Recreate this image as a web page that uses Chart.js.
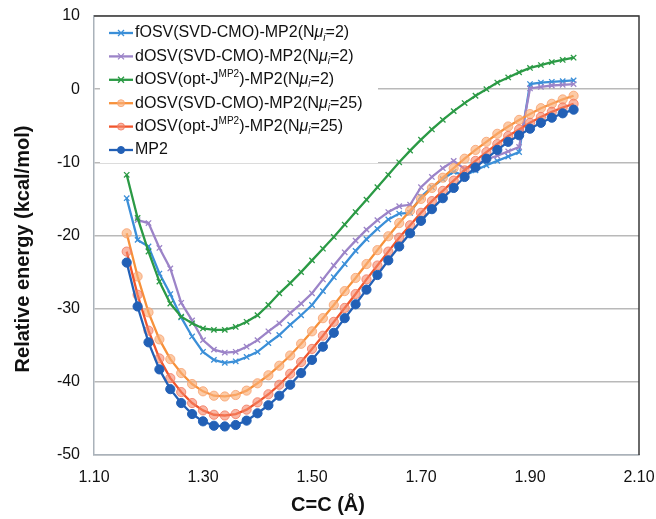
<!DOCTYPE html>
<html>
<head>
<meta charset="utf-8">
<script src="https://cdn.jsdelivr.net/npm/chart.js@4/dist/chart.umd.min.js"></script>
<style>
  html, body { margin: 0; padding: 0; background: #fff; }
  #wrap { width: 656px; height: 519px; position: relative; }
</style>
</head>
<body>
<div id="wrap"><canvas id="chart" width="656" height="519"></canvas></div>
<script>
// C=C bond length (Å)
const bondLengths = [1.16, 1.18, 1.20, 1.22, 1.24, 1.26, 1.28, 1.30, 1.32, 1.34,
  1.36, 1.38, 1.40, 1.42, 1.44, 1.46, 1.48, 1.50, 1.52, 1.54,
  1.56, 1.58, 1.60, 1.62, 1.64, 1.66, 1.68, 1.70, 1.72, 1.74,
  1.76, 1.78, 1.80, 1.82, 1.84, 1.86, 1.88, 1.90, 1.92, 1.94,
  1.96, 1.98];

// relative energies (kcal/mol)
const fOsvSvd2 = [-14.9, -20.6, -21.5, -25.2, -28.0, -31.2, -33.8, -35.9, -37.0, -37.4,
  -37.2, -36.6, -35.9, -34.7, -33.6, -32.2, -30.9, -29.5, -27.6, -25.7,
  -23.9, -22.1, -20.5, -19.1, -17.8, -17.0, -16.9, -14.7, -13.4, -12.3,
  -11.3, -11.8, -11.1, -10.4, -9.8, -9.2, -8.6, 0.7, 0.9, 1.0,
  1.1, 1.2];
const dOsvSvd2 = [null, -17.9, -18.3, -21.7, -24.5, -29.2, -31.6, -34.3, -35.6, -36.0,
  -35.9, -35.2, -34.3, -33.1, -32.0, -30.6, -29.3, -27.9, -26.0, -24.1,
  -22.3, -20.7, -19.2, -17.9, -16.8, -16.0, -15.8, -13.4, -12.0, -10.8,
  -9.8, -10.9, -10.4, -9.6, -9.1, -8.5, -7.9, 0.1, 0.3, 0.5,
  0.6, 0.7];
const dOsvOptJ2 = [-11.7, -17.6, -22.2, -26.3, -29.3, -31.1, -32.0, -32.7, -32.9, -32.9,
  -32.5, -31.8, -30.9, -29.5, -27.9, -26.5, -25.0, -23.4, -21.8, -20.2,
  -18.5, -16.8, -15.1, -13.4, -11.7, -10.0, -8.4, -6.9, -5.5, -4.2,
  -3.0, -1.9, -0.9, 0.0, 0.9, 1.6, 2.3, 2.9, 3.3, 3.7,
  4.0, 4.3];
const dOsvSvd25 = [-19.7, -25.6, -30.5, -34.2, -36.9, -38.8, -40.3, -41.3, -41.9, -42.0,
  -41.8, -41.2, -40.2, -39.1, -37.8, -36.4, -34.8, -33.1, -31.3, -29.5,
  -27.6, -25.8, -23.9, -22.0, -20.1, -18.3, -16.6, -15.0, -13.5, -12.1,
  -10.8, -9.5, -8.3, -7.2, -6.1, -5.1, -4.2, -3.4, -2.6, -2.0,
  -1.4, -0.9];
const dOsvOptJ25 = [-22.2, -28.1, -33.0, -36.8, -39.5, -41.4, -42.9, -43.9, -44.5, -44.6,
  -44.4, -43.8, -42.8, -41.7, -40.4, -38.9, -37.3, -35.5, -33.7, -31.8,
  -29.9, -28.0, -26.0, -24.1, -22.2, -20.3, -18.6, -16.9, -15.3, -13.9,
  -12.5, -11.1, -9.8, -8.6, -7.5, -6.4, -5.5, -4.6, -3.8, -3.1,
  -2.5, -2.0];
const mp2 = [-23.7, -29.7, -34.6, -38.3, -41.0, -42.9, -44.4, -45.4, -46.0, -46.1,
  -45.9, -45.3, -44.3, -43.2, -41.9, -40.4, -38.8, -37.0, -35.2, -33.3,
  -31.3, -29.4, -27.4, -25.4, -23.4, -21.5, -19.7, -18.0, -16.4, -14.9,
  -13.5, -12.0, -10.7, -9.5, -8.3, -7.2, -6.3, -5.4, -4.6, -3.9,
  -3.3, -2.8];

// legend labels: *italic*, _subscript_, ^superscript^
const seriesLabels = [
  'fOSV(SVD-CMO)-MP2(N*μ*_i_=2)',
  'dOSV(SVD-CMO)-MP2(N*μ*_i_=2)',
  'dOSV(opt-J^MP2^)-MP2(N*μ*_i_=2)',
  'dOSV(SVD-CMO)-MP2(N*μ*_i_=25)',
  'dOSV(opt-J^MP2^)-MP2(N*μ*_i_=25)',
  'MP2'
];
const xTicks = [1.10, 1.30, 1.50, 1.70, 1.90, 2.10];

const FONT = '"Liberation Sans", Arial, Helvetica, sans-serif';

const styles = [
  {color: '#3b8fd8', point: 'crossRot', fill: '#3b8fd8', pborder: '#3b8fd8'},
  {color: '#9c84c8', point: 'crossRot', fill: '#9c84c8', pborder: '#9c84c8'},
  {color: '#2b9a45', point: 'crossRot', fill: '#2b9a45', pborder: '#2b9a45'},
  {color: '#f7913a', point: 'circle', fill: 'rgba(250,175,120,0.65)', pborder: 'rgba(248,160,110,0.8)'},
  {color: '#f0552c', point: 'circle', fill: 'rgba(245,135,105,0.6)', pborder: 'rgba(242,120,95,0.8)'},
  {color: '#2260b6', point: 'circle', fill: '#2260b6', pborder: '#2260b6'}
];

const seriesValues = [fOsvSvd2, dOsvSvd2, dOsvOptJ2, dOsvSvd25, dOsvOptJ25, mp2];

const plainLabel = s => s.replace(/[\*_\^]/g, '');

const datasets = seriesValues.map((vals, i) => ({
  label: plainLabel(seriesLabels[i]),
  data: bondLengths.map((x, j) => ({x: x, y: vals[j]})),
  borderColor: styles[i].color,
  backgroundColor: styles[i].fill,
  borderWidth: 2.3,
  pointStyle: styles[i].point,
  pointRadius: styles[i].point === 'circle' ? 4.6 : 3.8,
  pointBorderWidth: styles[i].point === 'circle' ? 1 : 1.3,
  pointBackgroundColor: styles[i].fill,
  pointBorderColor: styles[i].pborder,
  tension: 0,
  spanGaps: false,
  order: 5 - i
}));

function drawRich(ctx, str, x, y, size) {
  const parts = str.split(/(\^[^^]+\^|_[^_]+_|\*[^*]+\*)/).filter(Boolean);
  parts.forEach(p => {
    let txt = p, font = size + 'px ' + FONT, dy = 0;
    if (p[0] === '^') {
      txt = p.slice(1, -1); font = Math.round(size * 0.6) + 'px ' + FONT; dy = -size * 0.33;
    } else if (p[0] === '_') {
      txt = p.slice(1, -1); font = 'italic ' + Math.round(size * 0.65) + 'px ' + FONT; dy = size * 0.3;
    } else if (p[0] === '*') {
      txt = p.slice(1, -1); font = 'italic ' + size + 'px ' + FONT;
    }
    ctx.font = font;
    ctx.fillText(txt, x, y + dy);
    x += ctx.measureText(txt).width;
  });
}

const decorations = {
  id: 'decorations',
  afterDraw(chart) {
    const ctx = chart.ctx;
    const a = chart.chartArea;
    ctx.save();
    // dark top and right frame
    ctx.strokeStyle = '#3a3a3a';
    ctx.lineWidth = 1.5;
    ctx.beginPath();
    ctx.moveTo(a.left, a.top);
    ctx.lineTo(a.right, a.top);
    ctx.lineTo(a.right, a.bottom);
    ctx.stroke();

    // legend
    ctx.fillStyle = '#fff';
    ctx.fillRect(100, 20, 278, 143);
    ctx.textBaseline = 'middle';
    ctx.textAlign = 'left';
    seriesLabels.forEach((lab, i) => {
      const y = 33 + i * 23.4;
      const st = styles[i];
      ctx.strokeStyle = st.color;
      ctx.lineWidth = 2.3;
      ctx.beginPath();
      ctx.moveTo(109, y);
      ctx.lineTo(133, y);
      ctx.stroke();
      if (st.point === 'circle') {
        ctx.fillStyle = st.fill;
        ctx.strokeStyle = st.pborder;
        ctx.lineWidth = 1;
        ctx.beginPath();
        ctx.arc(121, y, 3.5, 0, Math.PI * 2);
        ctx.fill();
        ctx.stroke();
      } else {
        ctx.lineWidth = 1.3;
        ctx.beginPath();
        ctx.moveTo(118, y - 3); ctx.lineTo(124, y + 3);
        ctx.moveTo(118, y + 3); ctx.lineTo(124, y - 3);
        ctx.stroke();
      }
      ctx.fillStyle = '#111';
      drawRich(ctx, lab, 135, y, 16);
    });

    // axis titles
    ctx.fillStyle = '#111';
    ctx.font = 'bold 20px ' + FONT;
    ctx.textAlign = 'center';
    ctx.fillText('C=C (Å)', 328, 505);
    ctx.translate(23, 249);
    ctx.rotate(-Math.PI / 2);
    ctx.fillText('Relative energy (kcal/mol)', 0, 0);
    ctx.restore();
  }
};

new Chart(document.getElementById('chart'), {
  type: 'line',
  data: {datasets: datasets},
  options: {
    responsive: false,
    animation: false,
    layout: {padding: {top: 16, right: 17, bottom: 0, left: 0}},
    plugins: {
      legend: {display: false},
      tooltip: {enabled: false}
    },
    scales: {
      x: {
        type: 'linear',
        min: 1.1,
        max: 2.1,
        afterBuildTicks: scale => { scale.ticks = xTicks.map(v => ({value: v})); },
        afterFit: scale => {
          scale.height = 64;
          scale.paddingLeft = 0;
          scale.paddingRight = 0;
        },
        grid: {display: false, drawTicks: false},
        border: {display: true, color: '#aab2ba', width: 1.5},
        ticks: {
          padding: 13,
          color: '#111',
          font: {family: FONT, size: 16},
          maxRotation: 0,
          callback: v => v.toFixed(2)
        }
      },
      y: {
        min: -50,
        max: 10,
        afterFit: scale => {
          scale.width = 94;
          scale.paddingTop = 0;
          scale.paddingBottom = 0;
        },
        grid: {color: '#b9b9b9', lineWidth: 1.5, drawTicks: false},
        border: {display: true, color: '#aab2ba', width: 1.5},
        ticks: {
          stepSize: 10,
          padding: 14,
          color: '#111',
          font: {family: FONT, size: 16}
        }
      }
    }
  },
  plugins: [decorations]
});
</script>
</body>
</html>
